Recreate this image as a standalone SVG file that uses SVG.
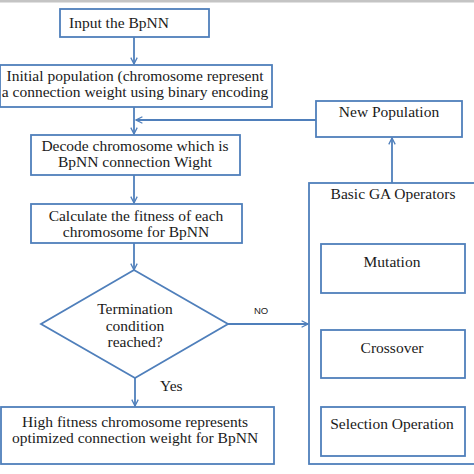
<svg xmlns="http://www.w3.org/2000/svg" width="474" height="474" viewBox="0 0 474 474">
<defs>
<style>
.box{fill:#fff;stroke:#4f7fbb;stroke-width:1.8}
.ln{fill:none;stroke:#4f7fbb;stroke-width:1.8}
.t{font-family:"Liberation Serif","Times New Roman",serif;font-size:15.5px;fill:#1a1a1a}
.c{text-anchor:middle}
.s{font-family:"Liberation Sans",Arial,sans-serif;font-size:9.5px;fill:#222}
</style>
<marker id="ah" viewBox="0 0 10 10" refX="9" refY="5" markerWidth="8" markerHeight="8" markerUnits="userSpaceOnUse" orient="auto">
<path d="M1,1 L9,5 L1,9" fill="none" stroke="#4f7fbb" stroke-width="1.6"/>
</marker>
</defs>
<rect width="474" height="474" fill="#fff"/>
<rect x="0" y="0" width="474" height="2.5" fill="#c4c4c4"/>
<g id="connectors">
<line class="ln" x1="134" y1="37" x2="134" y2="64" marker-end="url(#ah)"/>
<line class="ln" x1="134" y1="107" x2="134" y2="134" marker-end="url(#ah)"/>
<line class="ln" x1="134" y1="175" x2="134" y2="203" marker-end="url(#ah)"/>
<line class="ln" x1="134" y1="243" x2="134" y2="270" marker-end="url(#ah)"/>
<line class="ln" x1="135" y1="378" x2="135" y2="406" marker-end="url(#ah)"/>
<line class="ln" x1="228" y1="324" x2="308" y2="324" marker-end="url(#ah)"/>
<line class="ln" x1="316" y1="120" x2="136" y2="120" marker-end="url(#ah)"/>
<line class="ln" x1="392" y1="183" x2="392" y2="138" marker-end="url(#ah)"/>
<line class="ln" x1="392" y1="330" x2="392" y2="294" marker-end="url(#ah)"/>
<line class="ln" x1="392" y1="407" x2="392" y2="379" marker-end="url(#ah)"/>
<text class="s" x="254" y="314">NO</text>
<text class="t" x="160" y="391">Yes</text>
</g>
<g id="input">
<rect class="box" x="60" y="9" width="149" height="28"/>
<text class="t" x="69" y="28">Input the BpNN</text>
</g>
<g id="initial">
<rect class="box" x="0" y="65" width="272" height="42"/>
<text class="t c" x="135" y="81">Initial population (chromosome represent</text>
<text class="t c" x="135" y="97">a connection weight using binary encoding</text>
</g>
<g id="decode">
<rect class="box" x="31" y="135" width="209" height="40"/>
<text class="t c" x="135" y="151">Decode chromosome which is</text>
<text class="t c" x="135" y="167">BpNN connection Wight</text>
</g>
<g id="fitness">
<rect class="box" x="31" y="204" width="211" height="39"/>
<text class="t c" x="136" y="221">Calculate the fitness of each</text>
<text class="t c" x="136" y="237">chromosome for BpNN</text>
</g>
<g id="termination">
<polygon class="box" points="134,270 228,324 135,378 41,324"/>
<text class="t c" x="135" y="314">Termination</text>
<text class="t c" x="135" y="331">condition</text>
<text class="t c" x="135" y="347">reached?</text>
</g>
<g id="result">
<rect class="box" x="1" y="407" width="273" height="57"/>
<text class="t c" x="135" y="427">High fitness chromosome represents</text>
<text class="t c" x="135" y="443">optimized connection weight for BpNN</text>
</g>
<g id="newpop">
<rect class="box" x="316" y="101" width="146" height="36"/>
<text class="t c" x="389" y="117">New Population</text>
</g>
<g id="ga">
<rect class="box" x="309" y="183" width="170" height="281"/>
<text class="t c" x="393" y="199">Basic GA Operators</text>
</g>
<g id="mutation">
<rect class="box" x="321" y="244" width="144" height="49"/>
<text class="t c" x="392" y="267">Mutation</text>
</g>
<g id="crossover">
<rect class="box" x="321" y="330" width="144" height="48"/>
<text class="t c" x="392" y="353">Crossover</text>
</g>
<g id="selection">
<rect class="box" x="321" y="407" width="144" height="49"/>
<text class="t c" x="392" y="429">Selection Operation</text>
</g>
</svg>
